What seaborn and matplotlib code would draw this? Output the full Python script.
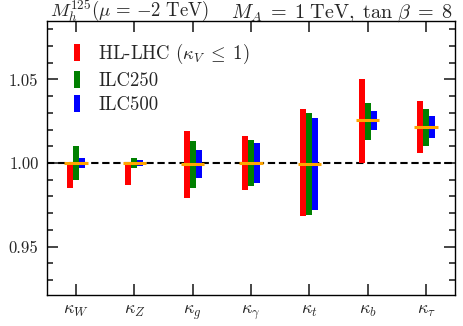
import numpy as np
import seaborn as sns
import matplotlib.pyplot as plt
from matplotlib.patches import Patch
from matplotlib.ticker import MultipleLocator, FormatStrFormatter

# coupling modifiers and the 1-sigma ranges
couplings = [r'$\kappa_W$', r'$\kappa_Z$', r'$\kappa_g$', r'$\kappa_\gamma$',
             r'$\kappa_t$', r'$\kappa_b$', r'$\kappa_\tau$']
central = [1.000, 1.000, 0.9993, 1.000, 0.9995, 1.0254, 1.0214]

hllhc_lo = [0.985, 0.987, 0.979, 0.984, 0.968, 1.000, 1.006]
hllhc_hi = [1.000, 1.000, 1.019, 1.016, 1.032, 1.050, 1.037]
ilc250_lo = [0.990, 0.997, 0.985, 0.986, 0.969, 1.014, 1.010]
ilc250_hi = [1.010, 1.003, 1.013, 1.014, 1.030, 1.036, 1.032]
ilc500_lo = [0.997, 0.998, 0.991, 0.988, 0.972, 1.020, 1.015]
ilc500_hi = [1.003, 1.002, 1.008, 1.012, 1.027, 1.031, 1.028]

labels = [r'HL-LHC ($\kappa_V \;\leq\; 1$)', 'ILC250', 'ILC500']
colors = ['#ff0000', '#008000', '#0000ff']

sns.set_style('ticks')
plt.rcParams['font.family'] = ['cmr10']
plt.rcParams['mathtext.fontset'] = 'cm'
plt.rcParams['axes.unicode_minus'] = False
plt.rcParams['axes.formatter.use_mathtext'] = True

fig = plt.figure(figsize=(4.64, 3.26), dpi=100)
ax = fig.add_axes([0.101, 0.095, 0.880, 0.841])

x = np.arange(len(couplings))
w = 0.103
ax.axhline(1.0, color='black', ls=(0, (3.5, 1.8)), lw=1.5, zorder=1)
ranges = [(hllhc_lo, hllhc_hi), (ilc250_lo, ilc250_hi), (ilc500_lo, ilc500_hi)]
for i, (lo, hi) in enumerate(ranges):
    lo = np.array(lo)
    hi = np.array(hi)
    ax.bar(x + (i - 1) * w, hi - lo, bottom=lo, width=w, color=colors[i],
           lw=0, zorder=2)
ax.hlines(central, x - 0.2, x + 0.2, color='orange', lw=2.2, zorder=3)

ax.set_xlim(-0.5, 6.5)
ax.set_ylim(0.921, 1.085)
ax.set_xticks(x)
ax.set_xticklabels(couplings)
ax.yaxis.set_major_locator(MultipleLocator(0.05))
ax.yaxis.set_minor_locator(MultipleLocator(0.01))
ax.yaxis.set_major_formatter(FormatStrFormatter('%.2f'))
ax.tick_params(axis='both', which='both', direction='in', top=True, right=True,
               labelsize=12, width=1.2)
ax.tick_params(axis='x', which='major', labelsize=13)
ax.tick_params(axis='both', which='major', length=8, pad=6)
ax.tick_params(axis='y', which='minor', length=4)
for s in ax.spines.values():
    s.set_linewidth(1.0)
    s.set_color('black')

# titles placed by baseline so the superscript stays inside the figure
ax.text(0.007, 1.013, r'$M_h^{125}(\mu \,=\, {-}2\ \mathrm{TeV})$', transform=ax.transAxes,
        ha='left', va='baseline', fontsize=13.5)
ax.text(0.995, 1.013, r'$M_A \;=\; 1\;\mathrm{TeV},\;\tan\,\beta \;=\; 8$',
        transform=ax.transAxes, ha='right', va='baseline', fontsize=14.5)

handles = [Patch(facecolor=c, edgecolor='none') for c in colors]
ax.legend(handles, labels, loc='upper left', bbox_to_anchor=(0.025, 0.985),
          frameon=False, fontsize=13.5, handlelength=0.3, handleheight=1.0,
          handletextpad=1.0, labelspacing=0.28)

fig.savefig('out.png', dpi=100)
